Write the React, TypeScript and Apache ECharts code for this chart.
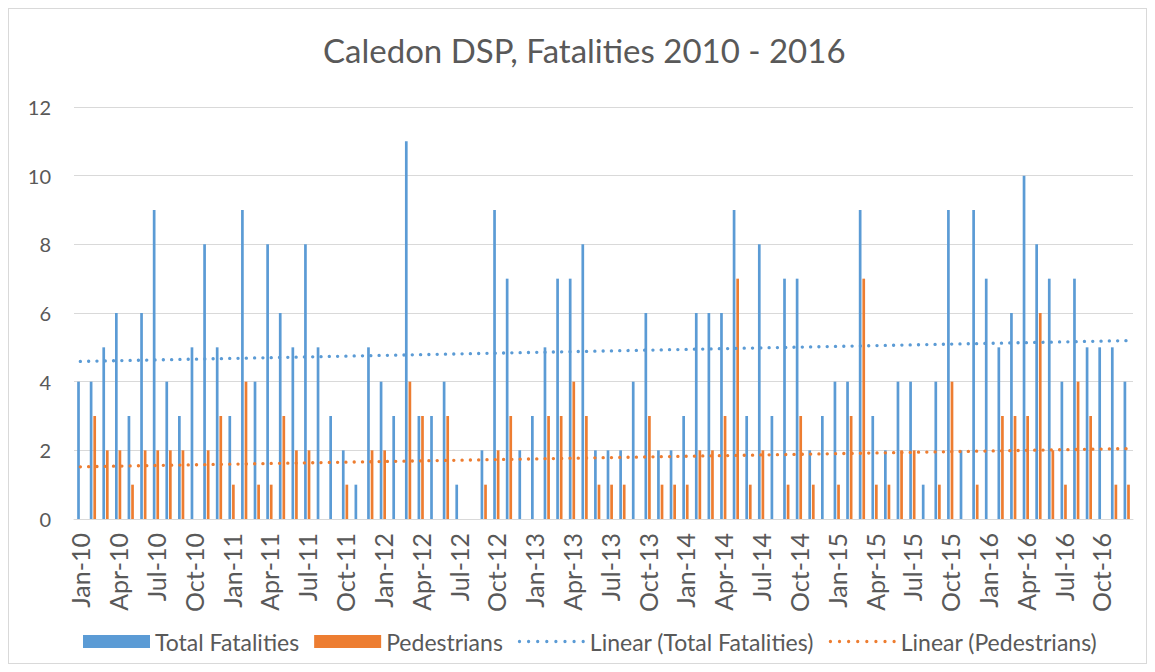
import React, { useEffect, useRef } from "react";
import * as echarts from "echarts";

const monthNames = ["Jan", "Feb", "Mar", "Apr", "May", "Jun", "Jul", "Aug", "Sep", "Oct", "Nov", "Dec"];
const yearSuffixes = ["10", "11", "12", "13", "14", "15", "16"];
const categories = yearSuffixes.flatMap((y) => monthNames.map((m) => `${m}-${y}`));

const totalFatalities = [
  4, 4, 5, 6, 3, 6, 9, 4, 3, 5, 8, 5,
  3, 9, 4, 8, 6, 5, 8, 5, 3, 2, 1, 5,
  4, 3, 11, 3, 3, 4, 1, 0, 2, 9, 7, 2,
  3, 5, 7, 7, 8, 2, 2, 2, 4, 6, 2, 2,
  3, 6, 6, 6, 9, 3, 8, 3, 7, 7, 2, 3,
  4, 4, 9, 3, 2, 4, 4, 1, 4, 9, 2, 9,
  7, 5, 6, 10, 8, 7, 4, 7, 5, 5, 5, 4,
];

const pedestrians = [
  0, 3, 2, 2, 1, 2, 2, 2, 2, 0, 2, 3,
  1, 4, 1, 1, 3, 2, 2, 0, 0, 1, 0, 2,
  2, 0, 4, 3, 0, 3, 0, 0, 1, 2, 3, 0,
  0, 3, 3, 4, 3, 1, 1, 1, 0, 3, 1, 1,
  1, 2, 2, 3, 7, 1, 2, 0, 1, 3, 1, 0,
  1, 3, 7, 1, 1, 2, 2, 0, 1, 4, 0, 1,
  0, 3, 3, 3, 6, 2, 1, 4, 3, 0, 1, 1,
];

const yTicks = { min: 0, max: 12, interval: 2 };

// Least-squares linear trendline, as the chart's "Linear (...)" series
function linearTrend(values: number[]): number[] {
  const n = values.length;
  const xs = values.map((_, i) => i + 1);
  const mx = xs.reduce((a, b) => a + b, 0) / n;
  const my = values.reduce((a, b) => a + b, 0) / n;
  let sxy = 0;
  let sxx = 0;
  for (let i = 0; i < n; i++) {
    sxy += (xs[i] - mx) * (values[i] - my);
    sxx += (xs[i] - mx) * (xs[i] - mx);
  }
  const slope = sxy / sxx;
  const intercept = my - slope * mx;
  return xs.map((x) => +(intercept + slope * x).toFixed(4));
}

const BLUE = "#5B9BD5";
const ORANGE = "#ED7D31";
const TEXT = "#595959";
const GRID = "#D9D9D9";
const FONT = "Lato, 'Open Sans', sans-serif";

// Legend icon for the dotted trendlines: a row of round dots in a 67 x 13 box
function dottedIconPath(): string {
  const w = 67;
  const h = 13;
  const r = 1.65;
  const count = 8;
  const cy = h / 2;
  const step = (w - 2 * r) / (count - 1);
  let d = `M0 0 L0.01 0 Z M0 ${h} L0.01 ${h} Z M${w} 0 L${w - 0.01} 0 Z`;
  for (let k = 0; k < count; k++) {
    const cx = r + k * step;
    d += ` M${(cx - r).toFixed(2)} ${cy} A${r} ${r} 0 1 0 ${(cx + r).toFixed(2)} ${cy} A${r} ${r} 0 1 0 ${(cx - r).toFixed(2)} ${cy} Z`;
  }
  return "path://" + d;
}

export default function App() {
  const ref = useRef<HTMLDivElement>(null);

  useEffect(() => {
    if (!ref.current) return;
    const chart = echarts.init(ref.current, undefined, { renderer: "svg" });
    const dotted = (color: string) => ({
      color,
      width: 3.3,
      type: [0.1, 8.2] as any,
      cap: "round" as const,
    });
    const dotIcon = dottedIconPath();
    chart.setOption({
      animation: false,
      backgroundColor: "#ffffff",
      title: {
        text: "Caledon DSP, Fatalities 2010 - 2016",
        left: 314,
        top: 24,
        padding: 0,
        textStyle: { fontFamily: FONT, fontSize: 33, fontWeight: "normal", color: TEXT },
      },
      legend: {
        left: 74,
        top: 621,
        padding: 0,
        itemWidth: 67,
        itemHeight: 13,
        itemGap: 15,
        textStyle: { fontFamily: FONT, fontSize: 23, color: TEXT },
        data: [
          { name: "Total Fatalities", icon: "rect" },
          { name: "Pedestrians", icon: "rect" },
          { name: "Linear (Total Fatalities)", icon: dotIcon },
          { name: "Linear (Pedestrians)", icon: dotIcon },
        ],
      },
      grid: {
        left: 65,
        right: 13,
        top: 98,
        bottom: 144,
        containLabel: false,
        outerBoundsMode: "none",
      },
      xAxis: {
        type: "category",
        data: categories,
        boundaryGap: true,
        axisTick: { show: false },
        axisLine: { show: true, lineStyle: { color: GRID, width: 1 } },
        axisLabel: {
          rotate: 90,
          interval: 2,
          margin: 14,
          color: TEXT,
          fontFamily: FONT,
          fontSize: 25,
        },
      },
      yAxis: {
        type: "value",
        min: yTicks.min,
        max: yTicks.max,
        interval: yTicks.interval,
        axisLine: { show: false },
        axisTick: { show: false },
        splitLine: { lineStyle: { color: GRID, width: 1 } },
        axisLabel: { color: TEXT, fontFamily: FONT, fontSize: 20, margin: 23 },
      },
      series: [
        {
          name: "Total Fatalities",
          type: "bar",
          data: totalFatalities,
          barWidth: 2.7,
          barGap: "33%",
          itemStyle: { color: BLUE },
        },
        {
          name: "Pedestrians",
          type: "bar",
          data: pedestrians,
          barWidth: 2.7,
          barGap: "33%",
          itemStyle: { color: ORANGE },
        },
        {
          name: "Linear (Total Fatalities)",
          type: "line",
          data: linearTrend(totalFatalities),
          symbol: "none",
          showSymbol: false,
          itemStyle: { color: BLUE },
          lineStyle: dotted(BLUE),
          z: 3,
        },
        {
          name: "Linear (Pedestrians)",
          type: "line",
          data: linearTrend(pedestrians),
          symbol: "none",
          showSymbol: false,
          itemStyle: { color: ORANGE },
          lineStyle: dotted(ORANGE),
          z: 3,
        },
      ],
    });
    return () => chart.dispose();
  }, []);

  return (
    <div
      ref={ref}
      style={{
        width: 1139,
        height: 656,
        boxSizing: "border-box",
        border: "1px solid #D9D9D9",
      }}
    />
  );
}
